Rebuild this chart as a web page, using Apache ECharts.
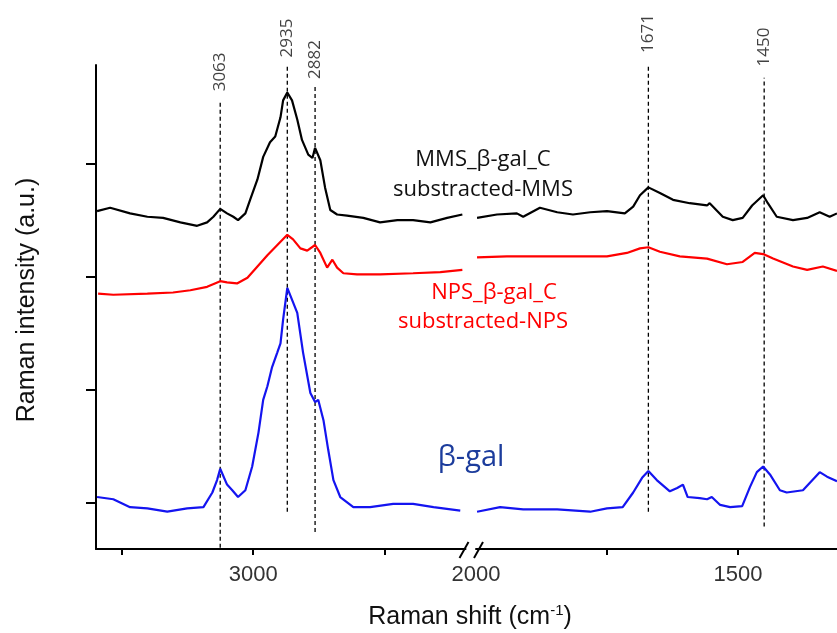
<!DOCTYPE html>
<html>
<head>
<meta charset="utf-8">
<script src="https://cdn.jsdelivr.net/npm/echarts@6/dist/echarts.min.js"></script>
<style>
  html, body { margin: 0; padding: 0; background: #ffffff; }
  #chart { width: 837px; height: 633px; }
</style>
</head>
<body>
<div id="chart"></div>
<script>
// ---- Axis ticks (Raman shift in cm-1, intensity in arbitrary units) ----
const highTicks = [3250, 3000, 2750];
const highLabels = [3000];
const lowTicks = [1750, 1500];
const lowLabels = [2000, 1500];
const intensityTicks = [0, 1, 2, 3];

// ---- Assigned bands (cm-1) ----
const peaksHigh = [3063, 2935, 2882];
const peaksLow = [1671, 1450];

// ---- Spectra, C-H stretching region: [shift, intensity] ----
const mmsHigh = [
  [3298, 2.58], [3273, 2.61], [3235, 2.56], [3202, 2.53], [3172, 2.52], [3139, 2.48],
  [3107, 2.45], [3088, 2.48], [3076, 2.53], [3063, 2.60], [3050, 2.56], [3038, 2.53],
  [3029, 2.50], [3015, 2.56], [3006, 2.68], [2992, 2.86], [2981, 3.06], [2968, 3.19],
  [2958, 3.24], [2948, 3.41], [2943, 3.56], [2935, 3.63], [2926, 3.56], [2916, 3.39],
  [2907, 3.21], [2895, 3.08], [2887, 3.05], [2882, 3.14], [2872, 3.03], [2863, 2.79],
  [2853, 2.59], [2840, 2.55], [2821, 2.54], [2790, 2.52], [2758, 2.48], [2725, 2.50],
  [2695, 2.50], [2662, 2.48], [2630, 2.52], [2601, 2.55]
];
const npsHigh = [
  [3296, 1.85], [3267, 1.84], [3202, 1.85], [3153, 1.86], [3120, 1.88], [3088, 1.91],
  [3063, 1.96], [3050, 1.95], [3031, 1.94], [3011, 1.99], [2992, 2.09], [2973, 2.19],
  [2954, 2.28], [2935, 2.37], [2924, 2.33], [2910, 2.25], [2897, 2.23], [2882, 2.28],
  [2872, 2.21], [2859, 2.08], [2849, 2.15], [2840, 2.08], [2828, 2.03], [2802, 2.02],
  [2758, 2.02], [2695, 2.03], [2643, 2.04], [2601, 2.06]
];
const galHigh = [
  [3298, 0.05], [3267, 0.03], [3235, -0.04], [3202, -0.05], [3164, -0.08], [3126, -0.05],
  [3095, -0.04], [3078, 0.09], [3069, 0.20], [3063, 0.30], [3050, 0.16], [3040, 0.11],
  [3029, 0.05], [3015, 0.11], [3002, 0.32], [2990, 0.62], [2981, 0.91], [2973, 1.03],
  [2964, 1.20], [2954, 1.33], [2948, 1.41], [2943, 1.62], [2935, 1.90], [2916, 1.68],
  [2905, 1.33], [2891, 0.97], [2882, 0.89], [2876, 0.91], [2866, 0.73], [2857, 0.47],
  [2847, 0.20], [2834, 0.05], [2809, -0.04], [2777, -0.04], [2733, -0.01], [2695, -0.01],
  [2656, -0.04], [2605, -0.07]
];

// ---- Spectra, fingerprint region: [shift, intensity] ----
const mmsLow = [
  [1998, 2.52], [1960, 2.55], [1922, 2.56], [1910, 2.53], [1878, 2.61], [1845, 2.57],
  [1815, 2.55], [1782, 2.57], [1750, 2.58], [1716, 2.56], [1700, 2.62], [1687, 2.72],
  [1671, 2.79], [1649, 2.74], [1624, 2.68], [1592, 2.65], [1559, 2.63], [1554, 2.65],
  [1529, 2.53], [1510, 2.50], [1491, 2.52], [1473, 2.63], [1452, 2.72], [1443, 2.65],
  [1426, 2.53], [1395, 2.50], [1368, 2.52], [1344, 2.57], [1325, 2.53], [1311, 2.56]
];
const npsLow = [
  [1998, 2.17], [1941, 2.18], [1878, 2.18], [1815, 2.18], [1750, 2.18], [1712, 2.21],
  [1687, 2.25], [1671, 2.26], [1649, 2.22], [1611, 2.18], [1559, 2.16], [1521, 2.11],
  [1491, 2.13], [1468, 2.21], [1452, 2.20], [1433, 2.16], [1395, 2.09], [1368, 2.06],
  [1338, 2.09], [1311, 2.05]
];
const galLow = [
  [1998, -0.08], [1954, -0.04], [1910, -0.06], [1845, -0.06], [1782, -0.08], [1750, -0.05],
  [1720, -0.04], [1700, 0.09], [1683, 0.22], [1671, 0.28], [1655, 0.20], [1630, 0.10],
  [1616, 0.13], [1605, 0.16], [1596, 0.05], [1573, 0.04], [1559, 0.03], [1550, 0.05],
  [1534, -0.02], [1515, -0.04], [1492, -0.03], [1477, 0.14], [1464, 0.27], [1452, 0.32],
  [1439, 0.25], [1420, 0.11], [1407, 0.09], [1376, 0.11], [1344, 0.27], [1330, 0.23],
  [1311, 0.19]
];

// Vertical extent of each dashed band guide and where its label starts (intensity units)
const guideSpan = {
  3063: { from: -0.40, to: 3.56, label: 3.64 },
  2935: { from: -0.08, to: 3.87, label: 3.94 },
  2882: { from: -0.26, to: 3.70, label: 3.75 },
  1671: { from: -0.08, to: 3.87, label: 3.98 },
  1450: { from: -0.21, to: 3.76, label: 3.86 }
};

const Y_MIN = -0.41, Y_MAX = 3.873;
const AXIS_FONT = 'Liberation Sans, Arial, sans-serif';
const NOTE_FONT = 'Open Sans, sans-serif';
const BLACK = '#000000', RED = '#ff0000', BLUE = '#1414f0';

function xAxisFor(gridIndex, min, max, ticks, labels) {
  return {
    type: 'value', gridIndex, min, max, inverse: true,
    axisLine: { show: true, onZero: false, lineStyle: { color: '#000', width: 2 } },
    axisTick: { show: true, inside: false, length: 6, customValues: ticks, lineStyle: { color: '#000', width: 2 } },
    axisLabel: {
      show: true, customValues: labels, formatter: v => String(v),
      fontSize: 22, color: '#333', fontFamily: AXIS_FONT, margin: 15
    },
    splitLine: { show: false }
  };
}

function spectrum(name, data, color, axisIndex) {
  return {
    name, type: 'line', data, xAxisIndex: axisIndex, yAxisIndex: axisIndex,
    symbol: 'none', smooth: false, clip: false, z: 3,
    lineStyle: { color, width: 2.2 }
  };
}

function guide(peak, axisIndex) {
  const s = guideSpan[peak];
  return {
    type: 'line', xAxisIndex: axisIndex, yAxisIndex: axisIndex, symbol: 'none', clip: false, z: 2,
    data: [[peak, s.from], [peak, s.to]],
    lineStyle: { color: '#000', width: 1.3, type: [4, 3] }
  };
}

function guideLabels(peaks, axisIndex) {
  return {
    type: 'scatter', xAxisIndex: axisIndex, yAxisIndex: axisIndex, clip: false, symbolSize: 1,
    itemStyle: { color: 'rgba(0,0,0,0)' },
    data: peaks.map(p => [p, guideSpan[p].label]),
    label: {
      show: true, position: 'inside', rotate: 90, align: 'left', verticalAlign: 'middle',
      formatter: p => String(p.value[0]),
      fontFamily: NOTE_FONT, fontSize: 17, color: '#111'
    }
  };
}

const chart = echarts.init(document.getElementById('chart'), null, { renderer: 'canvas' });

const option = {
  backgroundColor: '#ffffff',
  animation: false,
  grid: [
    { left: 96, top: 65, width: 369.5, bottom: 84, containLabel: false },
    { left: 476, top: 65, right: 0, bottom: 84, containLabel: false }
  ],
  xAxis: [
    xAxisFor(0, 2595, 3300, highTicks, highLabels),
    xAxisFor(1, 1311, 2000, lowTicks, lowLabels)
  ],
  yAxis: [
    {
      type: 'value', gridIndex: 0, min: Y_MIN, max: Y_MAX,
      axisLine: { show: true, onZero: false, lineStyle: { color: '#000', width: 2 } },
      axisTick: { show: true, inside: false, length: 10, customValues: intensityTicks, lineStyle: { color: '#000', width: 2 } },
      axisLabel: { show: false },
      splitLine: { show: false }
    },
    { type: 'value', gridIndex: 1, min: Y_MIN, max: Y_MAX, show: false, splitLine: { show: false } }
  ],
  series: [
    ...peaksHigh.map(p => guide(p, 0)),
    ...peaksLow.map(p => guide(p, 1)),
    guideLabels(peaksHigh, 0),
    guideLabels(peaksLow, 1),
    spectrum('MMS_β-gal_C', mmsHigh, BLACK, 0),
    spectrum('MMS_β-gal_C', mmsLow, BLACK, 1),
    spectrum('NPS_β-gal_C', npsHigh, RED, 0),
    spectrum('NPS_β-gal_C', npsLow, RED, 1),
    spectrum('β-gal', galHigh, BLUE, 0),
    spectrum('β-gal', galLow, BLUE, 1)
  ]
};
chart.setOption(option);

// Break marks on the shift axis, titles and curve annotations
const xEndHigh = chart.convertToPixel({ xAxisIndex: 0 }, 2595);
const xStartLow = chart.convertToPixel({ xAxisIndex: 1 }, 2000);
const yBase = chart.convertToPixel({ yAxisIndex: 0 }, Y_MIN);

function slash(x) {
  return {
    type: 'line', z: 10,
    shape: { x1: x - 5, y1: yBase + 9, x2: x + 4, y2: yBase - 7 },
    style: { stroke: '#000', lineWidth: 2 }
  };
}

function note(text, x, y, color, size) {
  return {
    type: 'text', x, y, z: 10,
    style: { text, fill: color, font: size + 'px ' + NOTE_FONT, align: 'center', verticalAlign: 'middle' }
  };
}

chart.setOption({
  graphic: [
    slash(xEndHigh - 1),
    slash(xStartLow + 3),
    note('MMS_β-gal_C', 483, 160, '#111', 22),
    note('substracted-MMS', 483, 190, '#111', 22),
    note('NPS_β-gal_C', 494, 293, RED, 22),
    note('substracted-NPS', 483, 322, RED, 22),
    note('β-gal', 471, 458, '#1c3c9c', 29),
    {
      type: 'text', x: 27, y: 300, rotation: Math.PI / 2, z: 10,
      style: {
        text: 'Raman intensity (a.u.)', fill: '#111',
        font: '25px ' + AXIS_FONT, align: 'center', verticalAlign: 'middle'
      }
    },
    {
      type: 'text', x: 470, y: 617, z: 10,
      style: {
        text: '{t|Raman shift (cm}{s|-1}{t|)}', align: 'center', verticalAlign: 'middle',
        rich: {
          t: { fontSize: 25, fontFamily: AXIS_FONT, fill: '#111', color: '#111' },
          s: { fontSize: 15, fontFamily: AXIS_FONT, fill: '#111', color: '#111', verticalAlign: 'top', padding: [0, 0, 12, 0] }
        }
      }
    }
  ]
});
</script>
</body>
</html>
